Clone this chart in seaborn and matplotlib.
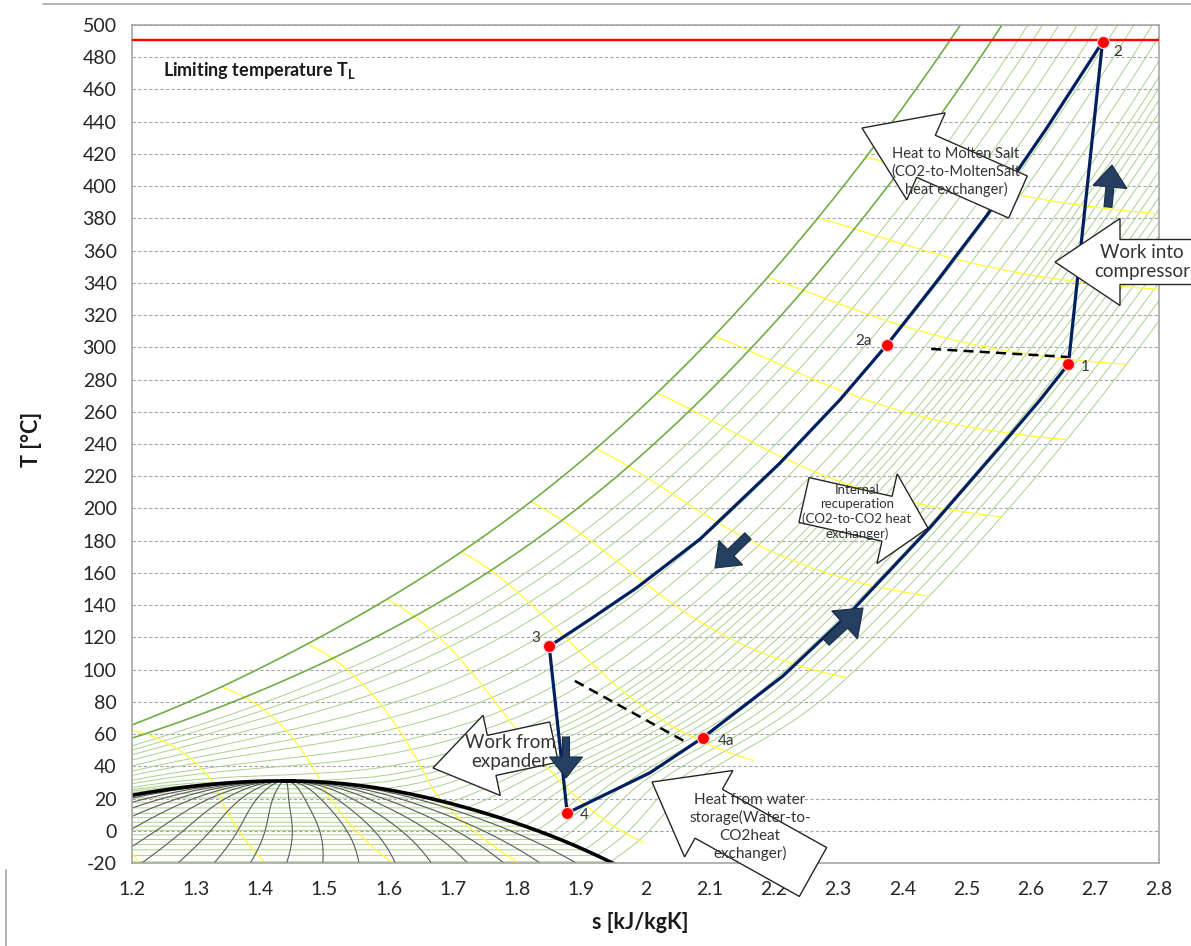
import warnings
import numpy as np
import pandas as pd
import seaborn as sns
import matplotlib.pyplot as plt
from matplotlib.patches import Polygon
from matplotlib.lines import Line2D
from matplotlib.ticker import MultipleLocator, FuncFormatter

warnings.filterwarnings('ignore')

# cycle state points (s in kJ/kgK, T in degC)
point_labels = ['1', '2', '2a', '3', '4', '4a']
point_s = [2.659, 2.712, 2.376, 1.850, 1.878, 2.089]
point_T = [289.7, 489.5, 301.5, 114.5, 11.0, 57.7]

# high pressure branch 2 -> 2a -> 3
hp_s = [2.712, 2.625, 2.532, 2.454, 2.376, 2.303, 2.209, 2.085, 1.987, 1.913, 1.850]
hp_T = [489.5, 436, 382, 341, 301.5, 267.5, 228, 181, 151, 131, 114.5]
# low pressure branch 4 -> 4a -> 1
lp_s = [1.878, 2.007, 2.089, 2.214, 2.318, 2.443, 2.552, 2.614, 2.659]
lp_T = [11.0, 36, 57.7, 96, 135, 188, 238, 267, 289.7]
# compressor 1 -> 2, expander 3 -> 4
comp_s = [2.659, 2.712]
comp_T = [289.7, 489.5]
exp_s = [1.850, 1.878]
exp_T = [114.5, 11.0]
# dashed guide lines
dash_a_s = [2.445, 2.658]
dash_a_T = [299, 294]
dash_b_s = [1.890, 2.065]
dash_b_T = [93, 54.6]

T_limit = 491

# CO2 property chart lines
isobar_bar = [20, 22.5, 25, 27.5, 30, 32.5, 35, 37.5, 40, 43, 46, 50, 54, 58, 62, 66, 70,
              74, 80, 90, 100, 115, 130, 150, 175, 200, 225, 250]
isobar_dark_bar = [300, 400]
isenthalp_kj = [150, 200, 250, 300, 350, 400, 450, 500, 550, 600, 650, 700, 750, 800, 850]
quality = [0.05, 0.1, 0.15, 0.2, 0.25, 0.3, 0.35, 0.4, 0.45, 0.5, 0.55, 0.6, 0.65,
           0.7, 0.75, 0.8, 0.85, 0.9, 0.95]
crit_s_read = 1.435   # entropy of the critical point on the chart

# ---- Peng-Robinson model for CO2
R = 188.924
Tc, Pc, omega = 304.13, 7.3773e6, 0.22394
kappa = 0.37464 + 1.54226 * omega - 0.26992 * omega ** 2
a_c = 0.45724 * R ** 2 * Tc ** 2 / Pc
b = 0.07780 * R * Tc / Pc
cp_poly = [3.259, 1.356e-3, 1.502e-5, -2.374e-8, 1.056e-11]
SQ2 = np.sqrt(2.0)


def ideal_h(T):
    return R * sum(c * T ** (k + 1) / (k + 1) for k, c in enumerate(cp_poly))


def ideal_s(T):
    return R * (cp_poly[0] * np.log(T) + sum(c * T ** k / k for k, c in enumerate(cp_poly) if k > 0))


def eos_roots(T, p):
    T, p = np.broadcast_arrays(np.atleast_1d(np.asarray(T, float)), np.atleast_1d(np.asarray(p, float)))
    T = T.ravel()
    p = p.ravel()
    alpha = (1 + kappa * (1 - np.sqrt(T / Tc))) ** 2
    A = a_c * alpha * p / (R * T) ** 2
    B = b * p / (R * T)
    M = np.zeros((T.size, 3, 3))
    M[:, 0, 0] = 1 - B
    M[:, 0, 1] = -(A - 3 * B ** 2 - 2 * B)
    M[:, 0, 2] = A * B - B ** 2 - B ** 3
    M[:, 1, 0] = 1.0
    M[:, 2, 1] = 1.0
    r = np.linalg.eigvals(M)
    ok = (np.abs(r.imag) < 1e-6) & (r.real > B[:, None])
    z = np.where(ok, r.real, np.nan)
    return np.nanmin(z, axis=1), np.nanmax(z, axis=1), A, B, T, p


def lnphi(Z, A, B):
    return Z - 1 - np.log(Z - B) - A / (2 * SQ2 * B) * np.log((Z + (1 + SQ2) * B) / (Z + (1 - SQ2) * B))


def props(T, p, Z, A, B):
    sq = np.sqrt(T / Tc)
    a = a_c * (1 + kappa * (1 - sq)) ** 2
    dadT = -a_c * kappa * (1 + kappa * (1 - sq)) / np.sqrt(T * Tc)
    L = np.log((Z + (1 + SQ2) * B) / (Z + (1 - SQ2) * B))
    h = ideal_h(T) + R * T * (Z - 1) + (T * dadT - a) / (2 * SQ2 * b) * L
    s = ideal_s(T) - R * np.log(p / 1e5) + R * np.log(Z - B) + dadT / (2 * SQ2 * b) * L
    return h, s


# saturation curve
T_sat = np.r_[np.linspace(250.0, 300.0, 51), np.linspace(300.5, Tc - 0.02, 40)]
p_sat = Pc * 10 ** (7 / 3 * (1 + omega) * (1 - Tc / T_sat))
for _ in range(1500):
    zl, zv, A, B, _, _ = eos_roots(T_sat, p_sat)
    p_sat = p_sat * np.exp(lnphi(zl, A, B) - lnphi(zv, A, B))
zl, zv, A, B, _, _ = eos_roots(T_sat, p_sat)
h_l, s_l = props(T_sat, p_sat, zl, A, B)
h_v, s_v = props(T_sat, p_sat, zv, A, B)
h_c, s_c = props(np.array([Tc]), np.array([Pc]), np.array([0.30740]),
                 np.array([a_c * Pc / (R * Tc) ** 2]), np.array([b * Pc / (R * Tc)]))

# IIR reference: h = 200 kJ/kg, s = 1 kJ/kgK for saturated liquid at 0 degC
s_off = 1000 - np.interp(273.15, T_sat, s_l)
h_off = 200e3 - np.interp(273.15, T_sat, h_l)

# PR puts the critical point too far right: smooth pull of the band around Tc
crit_shift = (s_c[0] + s_off) / 1000 - crit_s_read
band = 30.0


def to_chart(s, T, pull=True):
    T = np.asarray(T, float)
    s_kj = (np.asarray(s, float) + s_off) / 1000
    if pull:
        s_kj = s_kj - crit_shift * np.exp(-((T - Tc) / band) ** 2)
    return s_kj, T - 273.15


T_top = 830.0


def isobar(p):
    if p < Pc:
        Ts = np.interp(p, p_sat, T_sat)
        T1 = np.linspace(250.0, Ts, 60)
        zl, zv, A, B, T1, pp = eos_roots(T1, p)
        h1, s1 = props(T1, pp, zl, A, B)
        T2 = np.linspace(Ts, T_top, 260)
        zl, zv, A, B, T2, pp = eos_roots(T2, p)
        h2, s2 = props(T2, pp, zv, A, B)
        T, h, s = np.r_[T1, T2], np.r_[h1, h2], np.r_[s1, s2]
    else:
        T = np.linspace(250.0, T_top, 320)
        zl, zv, A, B, T, pp = eos_roots(T, p)
        z = np.where(lnphi(zl, A, B) <= lnphi(zv, A, B), zl, zv)
        h, s = props(T, pp, z, A, B)
    return T, s, h + h_off


def family(curves):
    frames = []
    for i, (s, t) in enumerate(curves):
        d = pd.DataFrame({'line': i, 's': s, 'T': t}).dropna()
        frames.append(d)
    return pd.concat(frames, ignore_index=True)


light_curves = []
for pb in isobar_bar:
    T, s, h = isobar(pb * 1e5)
    light_curves.append(to_chart(s, T))
dark_curves = []
for pb in isobar_dark_bar:
    T, s, h = isobar(pb * 1e5)
    dark_curves.append(to_chart(s, T))

p_max = max(isobar_dark_bar) * 1e5
p_fine = np.unique(np.r_[np.geomspace(20e5, p_max, 160), np.linspace(60e5, 90e5, 61)])
paths = [isobar(p) for p in p_fine]
h_curves = []
for hk in isenthalp_kj:
    hs, hT = [], []
    for T, s, h in paths:
        hs.append(np.interp(hk * 1e3, h, s, left=np.nan, right=np.nan))
        hT.append(np.interp(hk * 1e3, h, T, left=np.nan, right=np.nan))
    h_curves.append(to_chart(np.array(hs), np.array(hT), pull=False))

q_curves = []
for x in quality:
    sq = np.r_[s_l + x * (s_v - s_l), s_c]
    q_curves.append(to_chart(sq, np.r_[T_sat, Tc]))
dome = to_chart(np.r_[s_l, s_c, s_v[::-1]], np.r_[T_sat, Tc, T_sat[::-1]])

# ---- figure
sns.set_style('white')
plt.rcParams['font.family'] = ['Lato', 'DejaVu Sans']
plt.rcParams['mathtext.fontset'] = 'custom'
plt.rcParams['mathtext.rm'] = 'Lato'
plt.rcParams['mathtext.bf'] = 'Lato:bold'

W, H = 1191, 946
fig = plt.figure(figsize=(W / 100, H / 100), dpi=100)
ax = fig.add_axes([132 / W, 1 - 863 / H, (1159 - 132) / W, (863 - 25) / H])

kw = dict(x='s', y='T', units='line', estimator=None, sort=False, legend=False, ax=ax)
sns.lineplot(data=family(light_curves), color='#a9d18e', lw=0.7, zorder=2, **kw)
sns.lineplot(data=family(h_curves), color='#ffff33', lw=0.9, zorder=2.1, **kw)
sns.lineplot(data=family(q_curves), color='#595959', lw=0.8, zorder=2.2, **kw)
sns.lineplot(data=family(dark_curves), color='#70ad47', lw=1.2, zorder=2.3, **kw)
sns.lineplot(x=dome[0], y=dome[1], sort=False, color='black', lw=2.6, zorder=2.4, ax=ax)

ax.axhline(T_limit, color='#ff0000', lw=1.7, zorder=3)

navy = '#002060'
for xs, ys in [(hp_s, hp_T), (lp_s, lp_T), (comp_s, comp_T), (exp_s, exp_T)]:
    sns.lineplot(x=xs, y=ys, sort=False, color=navy, lw=2.3, zorder=4, ax=ax)
for xs, ys in [(dash_a_s, dash_a_T), (dash_b_s, dash_b_T)]:
    sns.lineplot(x=xs, y=ys, sort=False, color='black', lw=1.8, linestyle=(0, (4, 2.5)), zorder=4, ax=ax)
sns.scatterplot(x=point_s, y=point_T, color='#ff0000', s=75, edgecolor='#ffd0d0', linewidth=0.8,
                zorder=5, legend=False, ax=ax)

label_offsets = {'1': (12, -2), '2': (11, -7), '2a': (-17, 3), '3': (-10, 6), '4': (12, -1.5), '4a': (17, -2)}
for lab, sx, ty in zip(point_labels, point_s, point_T):
    ax.annotate(lab, (sx, ty), xytext=label_offsets[lab], textcoords='offset points',
                ha='center', va='center', fontsize=11, color='#333333', zorder=6)

ax.text(1.248, 472, r'Limiting temperature T$_{\mathbf{L}}$', fontsize=13, fontweight='bold',
        ha='left', va='center', color='#1a1a1a', zorder=6)

ax.set_xlim(1.2, 2.8)
ax.set_ylim(-20, 500)
ax.xaxis.set_major_locator(MultipleLocator(0.1))
ax.xaxis.set_minor_locator(MultipleLocator(0.02))
ax.yaxis.set_major_locator(MultipleLocator(20))
ax.yaxis.set_minor_locator(MultipleLocator(4))
ax.xaxis.set_major_formatter(FuncFormatter(lambda v, _: f'{round(v, 1):g}'))
ax.yaxis.set_major_formatter(FuncFormatter(lambda v, _: f'{v:g}'))
ax.tick_params(axis='both', which='major', direction='in', length=6, width=0.8, color='#a6a6a6',
               labelsize=14, labelcolor='#262626')
ax.tick_params(axis='y', which='major', pad=11)
ax.tick_params(axis='x', which='major', pad=13)
ax.tick_params(axis='both', which='minor', direction='in', length=3.5, width=0.7, color='#a6a6a6')
ax.yaxis.grid(True, which='major', linestyle=(0, (3, 2)), color='#a6a6a6', lw=0.8)
ax.xaxis.grid(False)
ax.set_axisbelow(True)
for sp in ax.spines.values():
    sp.set_color('#a6a6a6')
    sp.set_linewidth(1.2)

ax.set_xlabel('s [kJ/kgK]', fontsize=15.5, fontweight='bold', color='#1a1a1a')
ax.set_ylabel('T [°C]', fontsize=15.5, fontweight='bold', color='#1a1a1a')
ax.xaxis.set_label_coords(0.4946, -0.058)
ax.yaxis.set_label_coords(-0.088, 0.505)


# ---- block arrows (figure pixel coordinates, y downwards)
def block_arrow(tip, back, shaft_w, head_w, head_len, face, edge, lw):
    tip = np.array(tip, float)
    back = np.array(back, float)
    d = tip - back
    u = d / np.hypot(*d)
    n = np.array([-u[1], u[0]])
    neck = tip - u * head_len
    pts = [back + n * shaft_w / 2, neck + n * shaft_w / 2, neck + n * head_w / 2, tip,
           neck - n * head_w / 2, neck - n * shaft_w / 2, back - n * shaft_w / 2]
    pts = [(x / W, 1 - y / H) for x, y in pts]
    fig.add_artist(Polygon(pts, closed=True, transform=fig.transFigure, facecolor=face,
                           edgecolor=edge, lw=lw, clip_on=False))


def fig_text(x, y, txt, size, spacing):
    fig.text(x / W, 1 - y / H, txt, ha='center', va='center', fontsize=size, color='#333333',
             linespacing=spacing)


white = dict(face='white', edge='#262626', lw=1.0)
dark = dict(face='#243f60', edge='#1a2d45', lw=0.8)

block_arrow((862, 128), (1018, 197), 46, 95, 70, **white)
fig_text(956, 172, 'Heat to Molten Salt\n(CO2-to-MoltenSalt\nheat exchanger)', 10.5, 1.25)

block_arrow((1055, 262), (1215, 262), 45, 87, 65, **white)
fig_text(1142, 262, 'Work into\ncompressor', 13.5, 1.2)

block_arrow((928, 528), (804, 500), 46, 92, 42, **white)
fig_text(857, 512, 'Internal\nrecuperation\n(CO2-to-CO2 heat\nexchanger)', 9.5, 1.2)

block_arrow((433, 768), (554, 742), 41, 82, 60, **white)
fig_text(510, 752, 'Work from\nexpander', 13.5, 1.15)

block_arrow((652, 782), (813, 872), 56, 99, 65, **white)
fig_text(750, 827, 'Heat from water\nstorage(Water-to-\nCO2heat\nexchanger)', 11, 1.3)

block_arrow((1112, 165), (1108, 207), 8, 34, 22, **dark)
block_arrow((566, 778), (566, 737), 7, 33, 21, **dark)
block_arrow((715, 568), (748, 536), 9, 34, 22, **dark)
block_arrow((863, 608), (826, 642), 9, 38, 25, **dark)

fig.add_artist(Line2D([43 / W, 1], [1 - 4 / H, 1 - 4 / H], color='#a6a6a6', lw=1.2,
                      transform=fig.transFigure))
fig.add_artist(Line2D([6 / W, 6 / W], [1 - 870 / H, 0], color='#a6a6a6', lw=1.2,
                      transform=fig.transFigure))

fig.savefig('out.png', dpi=100, facecolor='white')
